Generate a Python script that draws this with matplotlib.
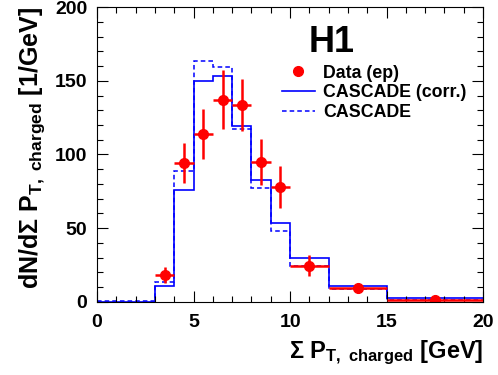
import numpy as np
import matplotlib
matplotlib.use("Agg")
import matplotlib.pyplot as plt

plt.rcParams['font.family'] = ['Liberation Sans', 'DejaVu Sans']
plt.rcParams['font.weight'] = 'bold'
plt.rcParams['mathtext.fontset'] = 'custom'
plt.rcParams['mathtext.rm'] = 'Liberation Sans:bold'
plt.rcParams['mathtext.bf'] = 'Liberation Sans:bold'
plt.rcParams['mathtext.it'] = 'Liberation Sans:bold'
plt.rcParams['mathtext.default'] = 'rm'

# bin edges in sum pT (GeV)
edges = [0, 3, 4, 5, 6, 7, 8, 9, 10, 12, 15, 20]
cascade_corr = [0.0, 10.8, 76, 150, 153, 119, 82.7, 53.8, 29.6, 10.8, 2.5]
cascade = [0.5, 13.8, 89, 163.6, 159.5, 117.5, 77.3, 47.9, 24.6, 8.4, 1.6]

# data points (H1, ep)
data_x = [3.5, 4.5, 5.5, 6.5, 7.5, 8.5, 9.5, 11, 13.5, 17.5]
data_xerr = [0.5, 0.5, 0.5, 0.5, 0.5, 0.5, 0.5, 1.0, 1.5, 2.5]
data_y = [18.3, 94, 114, 137, 133.6, 95, 78, 24.6, 9.3, 1.4]
data_yerr = [5.6, 13.6, 17, 20, 17.6, 15.8, 14, 7, 3, 1]

fig = plt.figure(figsize=(4.98, 3.75), dpi=100)
ax = fig.add_axes([0.195, 0.195, 0.775, 0.786])

ax.stairs(cascade, edges, baseline=None, color='blue', lw=1.1, ls=(0, (3, 2)))
ax.stairs(cascade_corr, edges, baseline=None, color='blue', lw=1.2)
ax.errorbar(data_x, data_y, xerr=data_xerr, yerr=data_yerr, fmt='o', color='red',
            ms=7, elinewidth=1.8, capsize=0)

# legend handles
ax.plot([], [], 'o', color='red', ms=7, label='Data (ep)')
ax.plot([], [], color='blue', lw=1.2, label='CASCADE (corr.)')
ax.plot([], [], color='blue', lw=1.1, ls=(0, (3, 2)), label='CASCADE')
handles, labels = ax.get_legend_handles_labels()
ax.legend(handles[-3:], labels[-3:], loc='upper left', bbox_to_anchor=(0.455, 0.835),
          frameon=False, fontsize=12.8, handlelength=1.9, handletextpad=0.45,
          labelspacing=0.15, borderpad=0)

ax.text(0.547, 0.847, 'H1', transform=ax.transAxes, fontsize=26, fontweight='bold',
        ha='left', va='baseline')

ax.set_xlim(0, 20)
ax.set_ylim(0, 200)
ax.set_xticks([0, 5, 10, 15, 20])
ax.set_yticks([0, 50, 100, 150, 200])
ax.set_xticks(np.arange(0, 21, 1), minor=True)
ax.set_yticks(np.arange(0, 201, 10), minor=True)
ax.tick_params(which='both', direction='in', top=True, right=True, labelsize=14, width=0.8)
ax.tick_params(which='major', length=8)
ax.tick_params(which='minor', length=4)
ax.tick_params(axis='x', which='major', pad=9)
ax.tick_params(axis='y', which='major', pad=7)
for lab in ax.get_xticklabels() + ax.get_yticklabels():
    lab.set_fontweight('bold')

ax.set_xlabel(r'$\Sigma$ P$_{\mathregular{T,\ charged}}$ [GeV]', fontsize=17,
              fontweight='bold', loc='right', labelpad=5)
ax.set_ylabel(r'dN/d$\Sigma$ P$_{\mathregular{T,\ charged}}$ [1/GeV]', fontsize=18,
              fontweight='bold', loc='top', labelpad=6)

plt.savefig('out.png', dpi=100)
